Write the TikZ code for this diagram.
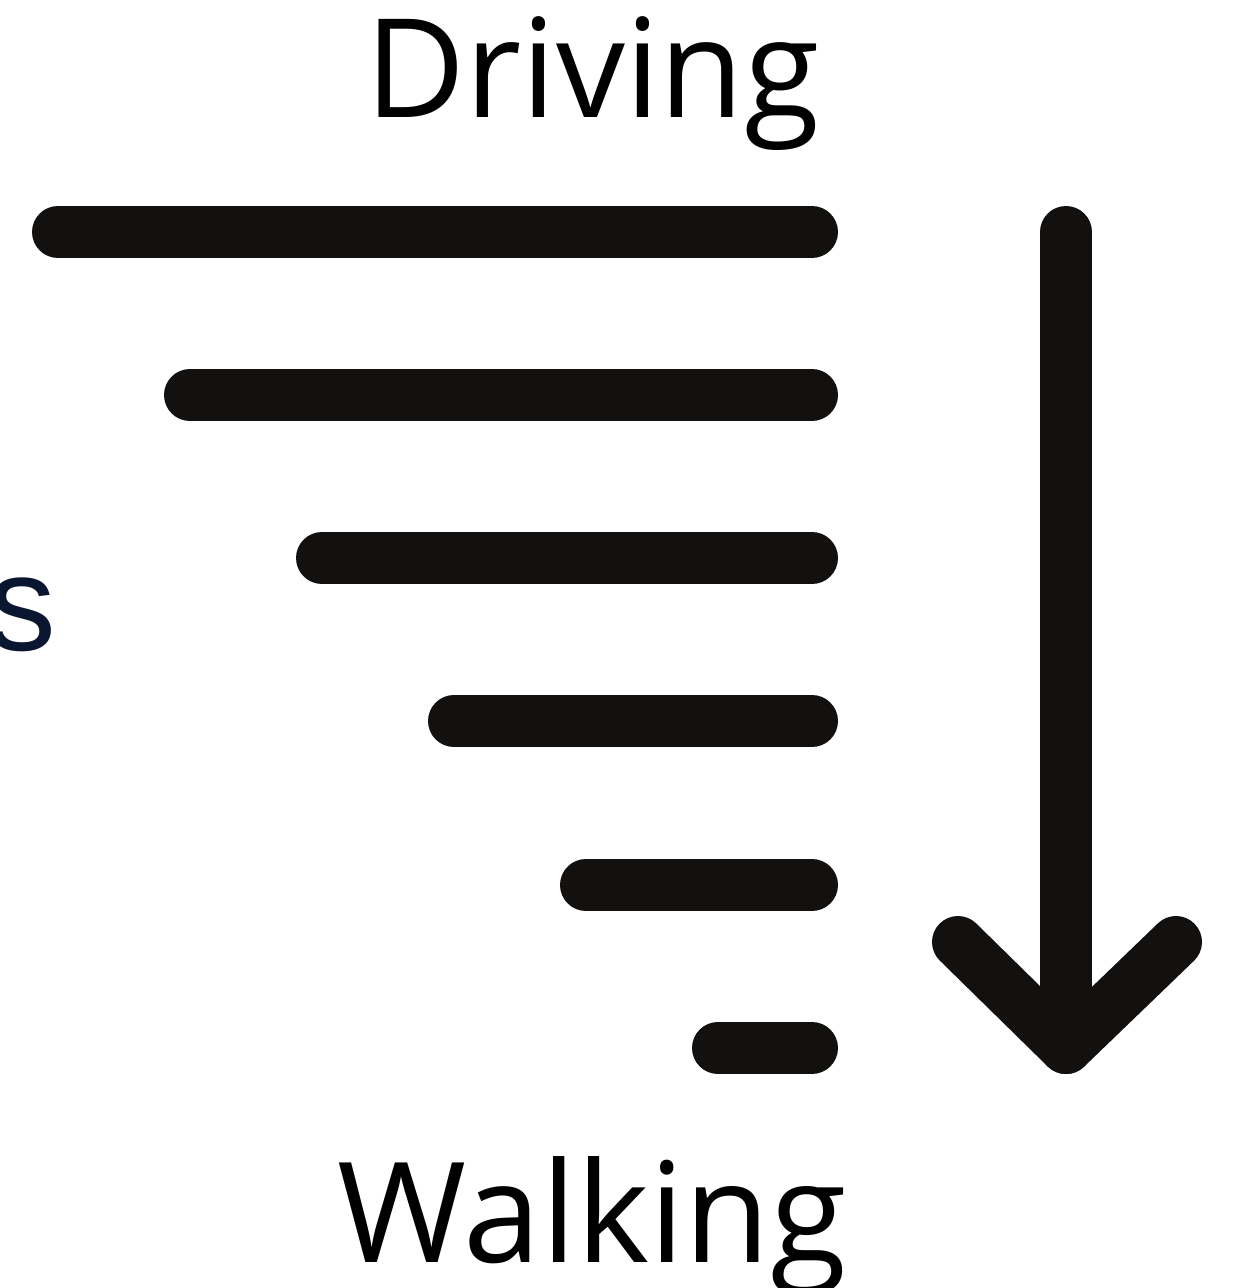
\documentclass[tikz,border=0pt]{standalone}
\usepackage{fontspec}
\setmainfont{Open Sans}
\newfontfamily\arialfont{Liberation Sans}
\definecolor{barcol}{RGB}{18,17,15}
\definecolor{navy}{RGB}{10,21,48}
\tikzset{
  bar/.style={draw=barcol, line width=52bp, line cap=round, line join=round},
  bigtext/.style={inner sep=0pt, text=black},
}
\begin{document}
\begin{tikzpicture}[x=1bp,y=-1bp]
\useasboundingbox (0,0) rectangle (1235,1288);
\clip (0,0) rectangle (1235,1288);
\node[bigtext, anchor=base west, font=\fontsize{138}{150}\selectfont] (driving) at (365,117) {Driving};
\node[bigtext, anchor=base west, font=\fontsize{140}{150}\selectfont] (walking) at (337,1262) {Walking};
\node[inner sep=0pt, anchor=base west, font=\arialfont\fontsize{136}{150}\selectfont, text=navy] (s) at (-12,650) {s};
\foreach \i/\x/\y in {1/58/232, 2/190/395, 3/322/558, 4/454/721, 5/586/885, 6/718/1048} {
  \coordinate (l\i) at (\x,\y);
  \coordinate (r\i) at (812,\y);
  \draw[bar] (l\i) -- (r\i);
}
\coordinate (atop) at (1066,232);
\coordinate (atip) at (1066,1048);
\coordinate (aleft) at (958,942);
\coordinate (aright) at (1176,942);
\draw[bar] (atop) -- (atip);
\draw[bar] (aleft) -- (atip) -- (aright);
\end{tikzpicture}
\end{document}
